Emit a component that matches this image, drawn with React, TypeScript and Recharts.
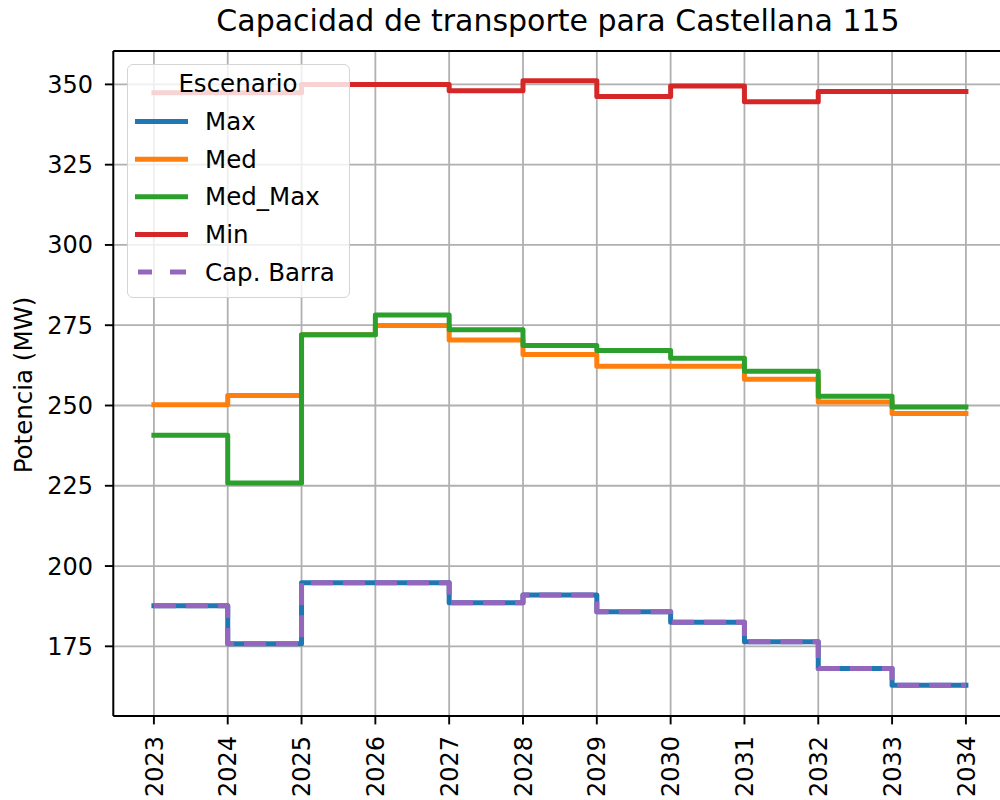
import React from "react";
import {
  LineChart,
  Line,
  XAxis,
  YAxis,
  CartesianGrid,
  Legend,
  ReferenceLine,
} from "recharts";

const years = [2023, 2024, 2025, 2026, 2027, 2028, 2029, 2030, 2031, 2032, 2033, 2034];
const maxCap = [187.6, 175.8, 194.8, 194.8, 188.6, 191.0, 185.8, 182.5, 176.4, 168.1, 162.9, 162.9];
const medCap = [250.2, 253.1, 272.0, 274.9, 270.4, 265.9, 262.2, 262.2, 258.2, 251.1, 247.5, 247.5];
const medMaxCap = [240.7, 225.9, 272.0, 278.2, 273.6, 268.7, 267.1, 264.7, 260.7, 252.9, 249.5, 249.5];
const minCap = [347.4, 347.4, 350.0, 350.0, 348.0, 351.1, 346.2, 349.5, 344.6, 347.8, 347.8, 347.8];
const barraCap = [187.6, 175.8, 194.8, 194.8, 188.6, 191.0, 185.8, 182.5, 176.4, 168.1, 162.9, 162.9];
const yTicks = [175, 200, 225, 250, 275, 300, 325, 350];

const series = [
  { key: "max", name: "Max", color: "#1f77b4", dashed: false },
  { key: "med", name: "Med", color: "#ff7f0e", dashed: false },
  { key: "medMax", name: "Med_Max", color: "#2ca02c", dashed: false },
  { key: "min", name: "Min", color: "#d62728", dashed: false },
  { key: "barra", name: "Cap. Barra", color: "#9467bd", dashed: true },
];

const data = years.map((year, i) => ({
  year,
  max: maxCap[i],
  med: medCap[i],
  medMax: medMaxCap[i],
  min: minCap[i],
  barra: barraCap[i],
}));

const FONT = "'DejaVu Sans', sans-serif";
const Y_MIN = 153.3;
const Y_MAX = 360.4;

function YearTick(props: any) {
  const { x, y, payload } = props;
  return (
    <text
      transform={`translate(${x}, ${y}) rotate(-90)`}
      x={0}
      y={8.6}
      textAnchor="end"
      fontSize={24}
      fontFamily={FONT}
      fill="#000"
    >
      {payload.value}
    </text>
  );
}

function YLabel() {
  return (
    <text
      transform="translate(32, 385) rotate(-90)"
      textAnchor="middle"
      fontSize={24.5}
      fontFamily={FONT}
      fill="#000"
    >
      Potencia (MW)
    </text>
  );
}

function LegendBox() {
  return (
    <div
      style={{
        width: 223,
        height: 234,
        boxSizing: "border-box",
        background: "rgba(255,255,255,0.8)",
        border: "1.5px solid #d4d4d4",
        borderRadius: 6,
      }}
    >
      <svg width={220} height={231} style={{ display: "block" }}>
        <text x={110} y={26.5} textAnchor="middle" fontSize={24.5} fontFamily={FONT} fill="#000">
          Escenario
        </text>
        {series.map((s, i) => {
          const cy = 56.5 + i * 37.65;
          return (
            <g key={s.key}>
              {s.dashed ? (
                <line
                  x1={10}
                  x2={60}
                  y1={cy}
                  y2={cy}
                  stroke={s.color}
                  strokeWidth={5}
                  strokeDasharray="14 18 16"
                />
              ) : (
                <line x1={7} x2={60} y1={cy} y2={cy} stroke={s.color} strokeWidth={5} />
              )}
              <text x={77} y={cy + 8.6} fontSize={24.5} fontFamily={FONT} fill="#000">
                {s.name}
              </text>
            </g>
          );
        })}
      </svg>
    </div>
  );
}

export default function App() {
  return (
    <div
      style={{
        position: "absolute",
        left: 0,
        top: 0,
        width: 1000,
        height: 800,
        overflow: "hidden",
        background: "#fff",
      }}
    >
      <div
        style={{
          position: "absolute",
          left: 113,
          top: 6,
          width: 890,
          textAlign: "center",
          fontFamily: FONT,
          fontSize: 30,
          lineHeight: "29px",
          color: "#000",
          whiteSpace: "nowrap",
          zIndex: 2,
        }}
      >
        Capacidad de transporte para Castellana 115
      </div>
      <LineChart
        width={1020}
        height={800}
        data={data}
        margin={{ top: 51, right: 13.5, left: 0, bottom: 0 }}
      >
        <CartesianGrid stroke="#b0b0b0" strokeWidth={1.8} />
        <XAxis
          dataKey="year"
          type="number"
          domain={[2022.45, 2034.55]}
          ticks={years}
          interval={0}
          allowDataOverflow
          height={84}
          tickSize={8.4}
          tickMargin={11.6}
          tick={<YearTick />}
          axisLine={{ stroke: "#000", strokeWidth: 1.9 }}
          tickLine={{ stroke: "#000", strokeWidth: 1.9 }}
        />
        <YAxis
          type="number"
          domain={[Y_MIN, Y_MAX]}
          ticks={yTicks}
          interval={0}
          allowDataOverflow
          width={113.3}
          tickSize={8.4}
          tickMargin={11.9}
          tick={{ fontSize: 24, fontFamily: FONT, fill: "#000" }}
          axisLine={{ stroke: "#000", strokeWidth: 1.9 }}
          tickLine={{ stroke: "#000", strokeWidth: 1.9 }}
          label={{ content: YLabel }}
        />
        {series.map((s) => (
          <Line
            key={s.key}
            type="stepAfter"
            dataKey={s.key}
            name={s.name}
            stroke={s.color}
            strokeWidth={5}
            strokeDasharray={s.dashed ? "22 10" : undefined}
            strokeLinecap={s.dashed ? "butt" : "square"}
            strokeLinejoin="round"
            dot={false}
            activeDot={false}
            isAnimationActive={false}
          />
        ))}
        <ReferenceLine y={Y_MAX} stroke="#000" strokeWidth={1.9} />
        <Legend
          layout="vertical"
          align="center"
          verticalAlign="middle"
          content={() => <LegendBox />}
          wrapperStyle={{ left: 126.7, top: 64, width: 223, height: 234 }}
        />
      </LineChart>
    </div>
  );
}
